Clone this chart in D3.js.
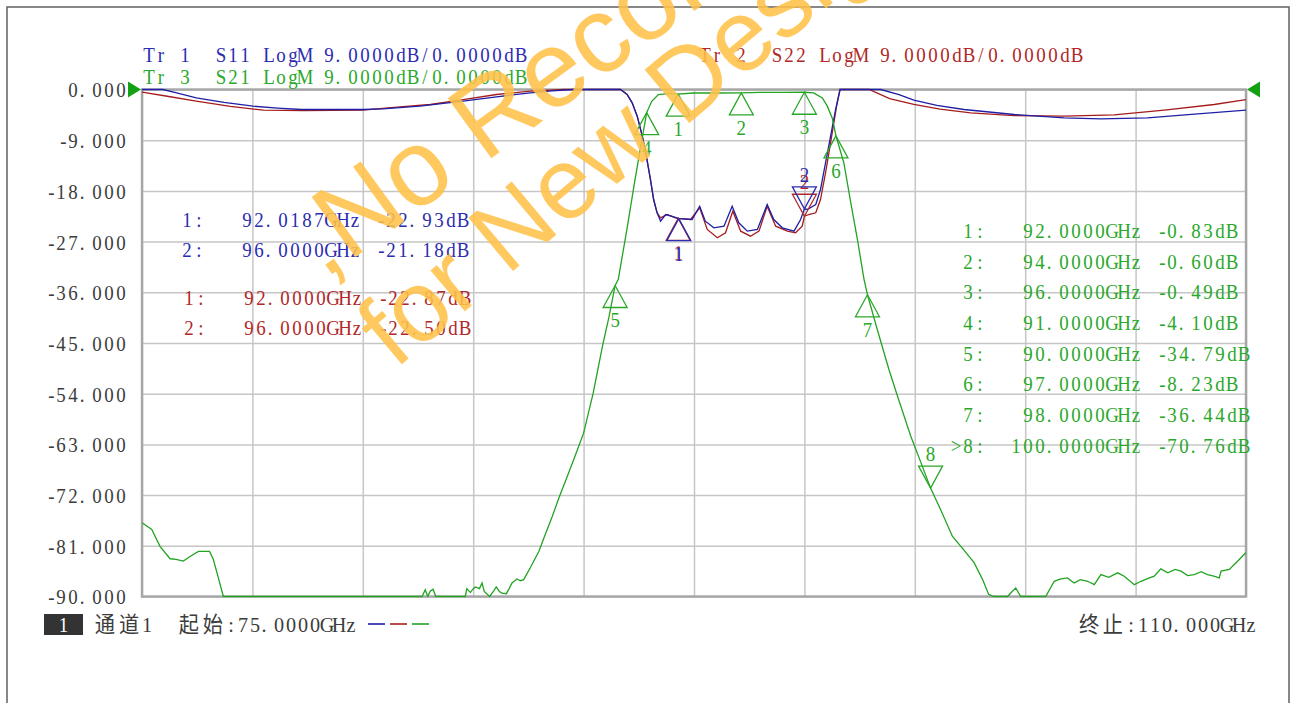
<!DOCTYPE html>
<html>
<head>
<meta charset="utf-8">
<script src="https://cdn.jsdelivr.net/npm/d3@7/dist/d3.min.js"></script>
<style>
  body { margin: 0; background: #fff; }
  svg { display: block; }
</style>
</head>
<body>
<svg id="vna" width="1295" height="703"></svg>
<script>
var xTicks = [75, 78.5, 82, 85.5, 89, 92.5, 96, 99.5, 103, 106.5, 110];
var yTicks = [0, -9, -18, -27, -36, -45, -54, -63, -72, -81, -90];

// S11 (Tr 1)
var s11Freq = [75.00, 75.66, 76.10, 76.72, 77.60, 78.52, 79.30, 80.05, 82.00, 82.64, 83.81, 85.18, 86.24, 87.31, 88.00, 88.68,
  90.17, 90.38, 90.54, 90.70, 90.86, 90.99, 91.12, 91.22, 91.33, 91.44, 91.60, 91.86, 92.02, 92.44, 92.68, 92.86, 93.13,
  93.45, 93.71, 93.92, 94.19, 94.51, 94.82, 95.03, 95.30, 95.67, 95.88, 96.00, 96.09, 96.36, 96.51, 96.67, 96.83, 96.99,
  97.13, 98.42, 99.00, 99.47, 100.20, 101.06, 102.65, 104.23, 105.40, 106.88, 108.47, 110.00];
var s11Db = [0, 0, -0.6, -1.48, -2.3, -2.96, -3.3, -3.55, -3.55, -3.43, -2.96, -2.08, -1.30, -0.59, -0.25, 0,
  0, -0.89, -2.36, -4.74, -8.29, -11.84, -15.98, -19.53, -21.89, -23.38, -22.19, -22.60, -22.93, -23.08, -20.72, -23.38, -24.55,
  -24.27, -20.72, -23.66, -25.15, -24.85, -20.41, -23.08, -24.55, -25.15, -23.08, -21.18, -21.30, -20.41, -17.75, -13.01, -8.29, -3.55,
  0, 0, -0.9, -1.90, -2.8, -3.55, -4.44, -5.02, -5.20, -5.02, -4.31, -3.67];

// S22 (Tr 2)
var s22Freq = [75.00, 75.80, 76.72, 77.80, 78.85, 80.11, 82.00, 83.08, 84.14, 85.18, 86.24, 87.31, 88.37,
  90.17, 90.38, 90.54, 90.70, 90.86, 90.99, 91.12, 91.22, 91.33, 91.44, 91.65, 91.91, 92.00, 92.39, 92.68, 92.92, 93.24,
  93.50, 93.73, 93.98, 94.29, 94.56, 94.82, 95.09, 95.46, 95.72, 95.93, 96.00, 96.14, 96.36, 96.51, 96.67, 96.83, 97.02,
  97.13, 98.05, 98.70, 99.47, 100.30, 101.27, 102.65, 104.23, 105.82, 107.41, 108.99, 110.00];
var s22Db = [-0.48, -1.2, -2.08, -3.0, -3.67, -3.73, -3.67, -3.14, -2.66, -1.78, -0.89, -0.30, 0,
  0, -0.89, -2.36, -4.74, -8.29, -11.84, -15.98, -19.53, -21.89, -22.78, -22.19, -22.78, -22.87, -23.08, -21.00, -24.85, -26.33,
  -25.44, -21.60, -25.15, -26.04, -25.15, -20.72, -24.27, -25.15, -25.44, -24.27, -22.50, -22.19, -21.89, -19.53, -14.79, -9.46, -2.96,
  0, 0, -1.6, -2.66, -3.5, -4.14, -4.62, -4.74, -4.49, -3.67, -2.66, -1.78];

// S21 (Tr 3)
var s21Freq = [75.00, 75.31, 75.57, 75.89, 76.08, 76.31, 76.52, 76.79, 77.14, 77.26, 77.42, 77.58, 83.88, 83.98, 84.06, 84.14,
  84.23, 84.31, 85.25, 85.30, 85.41, 85.49, 85.57, 85.70, 85.78, 85.85, 86.02, 86.15, 86.23, 86.33, 86.41, 86.55, 86.64,
  86.73, 86.89, 87.00, 87.10, 87.31, 87.58, 87.79, 88.00, 88.21, 88.42, 88.70, 89.00, 89.30, 89.60, 89.80, 90.00, 90.10, 90.37,
  90.63, 90.85, 91.00, 91.16, 91.37, 91.75, 92.00, 92.48, 93.20, 94.00, 94.60, 95.30, 96.00, 96.29, 96.57, 96.73, 96.89,
  97.00, 97.25, 97.47, 97.68, 97.89, 98.00, 98.31, 98.68, 98.95, 99.37, 99.74, 100.00, 100.32, 100.69, 100.96, 101.38,
  101.65, 101.84, 102.00, 102.44, 102.57, 102.70, 102.86, 103.65, 103.92, 104.10, 104.34, 104.55, 104.75, 104.98, 105.19,
  105.40, 105.65, 105.93, 106.14, 106.46, 106.67, 106.90, 107.09, 107.30, 107.52, 107.75, 107.94, 108.15, 108.36, 108.58,
  108.78, 108.98, 109.15, 109.21, 109.47, 109.74, 110.00];
var s21Db = [-76.9, -78.1, -81.1, -83.3, -83.4, -83.7, -82.9, -82.0, -82.0, -83.4, -86.7, -90, -90, -88.8, -90, -89.0,
  -88.7, -90, -90, -88.6, -89.3, -88.7, -88.3, -88.6, -87.6, -89.1, -90, -89.0, -88.3, -89.1, -89.4, -89.5, -88.6,
  -87.6, -86.9, -87.2, -87.0, -84.9, -82.0, -78.9, -75.9, -72.6, -69.6, -65.5, -61.0, -54.0, -45.5, -40.5, -34.79, -33.7, -24.9,
  -16.0, -8.9, -4.10, -2.1, -0.9, -0.7, -0.83, -0.62, -0.62, -0.60, -0.52, -0.50, -0.49, -0.6, -1.5, -3.0, -5.2,
  -8.23, -13.0, -20.1, -26.6, -33.7, -36.44, -42.6, -49.7, -54.4, -61.5, -66.9, -70.76, -74.6, -79.3, -81.1, -84.0,
  -87.0, -89.6, -90, -90, -89.2, -88.5, -90, -90, -87.3, -86.9, -86.7, -87.6, -87.0, -87.3, -87.9,
  -86.1, -86.6, -85.8, -86.4, -87.9, -87.3, -86.8, -86.4, -85.1, -85.8, -85.2, -85.5, -86.3, -86.1, -85.6,
  -86.1, -86.4, -86.7, -85.5, -85.2, -83.7, -82.2];

// markers
var s21MkNo = [1, 2, 3, 4, 5, 6, 7, 8];
var s21MkFreq = [92, 94, 96, 91, 90, 97, 98, 100];
var s21MkDb = [-0.83, -0.60, -0.49, -4.10, -34.79, -8.23, -36.44, -70.76];
var s21Active = 8;
var s11MkNo = [1, 2];
var s11MkFreq = [92.0187, 96];
var s11MkDb = [-22.93, -21.18];
var s11Active = 2;
var s22MkNo = [1, 2];
var s22MkFreq = [92, 96];
var s22MkDb = [-22.87, -22.50];
var s22Active = 2;

var traceTitles = ["Tr 1  S11 LogM 9.0000dB/0.0000dB", "Tr 2  S22 LogM 9.0000dB/0.0000dB", "Tr 3  S21 LogM 9.0000dB/0.0000dB"];
var watermark = [",No Recommended", "for New Design"];

var col = { s11: "#1f1fa6", s22: "#a51c1c", s21: "#22a322",
            s11t: "#2c2cb0", s22t: "#b02828", s21t: "#2aa82a", txt: "#3c3c3c" };

// ---- layout ----
var svg = d3.select("#vna");
var x = d3.scaleLinear().domain([75, 110]).range([142, 1246]);
var y = d3.scaleLinear().domain([0, -90]).range([89.5, 596.5]).clamp(true);

// monospaced text like the analyser font: every glyph in its own cell
function monoText(parent, str, x0, yb, color, opt) {
  opt = opt || {};
  var cell = opt.cell || 12, sx = opt.sx || 0.86, size = opt.size || 22;
  var chars = [], xs = [], acc = 0;
  Array.from(str).forEach(function(ch) {
    var wide = ch.charCodeAt(0) > 0x2e80;
    var cw = wide ? cell * 2 : cell;
    if (ch !== " ") {
      chars.push(ch);
      var cx = x0 + acc + cw / 2;
      if (ch === ".") cx = x0 + acc + 3;
      if (ch === "-") cx = x0 + acc + cw / 2 + 2.5;
      xs.push((cx / sx).toFixed(2));
    }
    acc += cw;
  });
  return parent.append("text")
    .attr("transform", "scale(" + sx + ",1)")
    .attr("x", xs.join(" "))
    .attr("y", yb)
    .attr("text-anchor", "middle")
    .attr("font-family", "'Liberation Serif', 'Noto Sans CJK SC', serif")
    .attr("font-size", size + "px")
    .attr("fill", color)
    .text(chars.join(""));
}

// page frame
svg.append("rect")
  .attr("x", 7).attr("y", 7).attr("width", 1282).attr("height", 740)
  .attr("fill", "none").attr("stroke", "#6a6a6a").attr("stroke-width", 1.6);

// grid
var gx = svg.append("g")
  .attr("transform", "translate(0," + y(-90) + ")")
  .call(d3.axisBottom(x).tickValues(xTicks).tickSize(-(y(-90) - y(0))).tickFormat(""));
var gy = svg.append("g")
  .attr("transform", "translate(" + x(75) + ",0)")
  .call(d3.axisLeft(y).tickValues(yTicks).tickSize(-(x(110) - x(75))).tickFormat(""));
[gx, gy].forEach(function(g) {
  g.select(".domain").remove();
  g.selectAll(".tick line").attr("stroke", "#c6c6c6").attr("stroke-width", 1.5);
});

svg.append("rect")
  .attr("x", x(75)).attr("y", y(0))
  .attr("width", x(110) - x(75)).attr("height", y(-90) - y(0))
  .attr("fill", "none").attr("stroke", "#a6a6a6").attr("stroke-width", 2.4);

// y labels
yTicks.forEach(function(v) {
  var s = v.toFixed(3);
  monoText(svg, s, 127 - s.length * 12, y(v) + 8, col.txt);
});

// reference arrows
svg.append("path")
  .attr("d", "M128," + (y(0) - 8) + "L141," + y(0) + "L128," + (y(0) + 8) + "Z")
  .attr("fill", "#14a014");
svg.append("path")
  .attr("d", "M1260," + (y(0) - 8) + "L1247," + y(0) + "L1260," + (y(0) + 8) + "Z")
  .attr("fill", "#14a014");

// titles
monoText(svg, traceTitles[0], 143, 62, col.s11t);
monoText(svg, traceTitles[1], 699, 62, col.s22t);
monoText(svg, traceTitles[2], 143, 84, col.s21t);

// traces
svg.append("clipPath").attr("id", "plotclip").append("rect")
  .attr("x", x(75)).attr("y", y(0) - 2).attr("width", x(110) - x(75)).attr("height", y(-90) - y(0) + 3);

var line = d3.line()
  .x(function(d) { return x(d[0]); })
  .y(function(d) { return y(d[1]); });

function drawTrace(fr, db, color) {
  svg.append("path")
    .datum(d3.zip(fr, db))
    .attr("clip-path", "url(#plotclip)")
    .attr("fill", "none")
    .attr("stroke", color)
    .attr("stroke-width", 1.3)
    .attr("d", line);
}
drawTrace(s22Freq, s22Db, col.s22);
drawTrace(s11Freq, s11Db, col.s11);
drawTrace(s21Freq, s21Db, col.s21);

// marker triangles
function drawMarkers(nos, fr, db, active, color) {
  nos.forEach(function(n, i) {
    var px = x(fr[i]), py = y(db[i]);
    var up = n !== active;
    var by = up ? py + 22 : py - 22;
    svg.append("path")
      .attr("d", "M" + px + "," + py + "L" + (px - 12) + "," + by + "L" + (px + 12) + "," + by + "Z")
      .attr("fill", "none").attr("stroke", color).attr("stroke-width", 1.3);
    monoText(svg, String(n), px - 6, up ? py + 42 : py - 27, color);
  });
}
drawMarkers(s22MkNo, s22MkFreq, s22MkDb, s22Active, col.s22t);
drawMarkers(s11MkNo, s11MkFreq, s11MkDb, s11Active, col.s11t);
drawMarkers(s21MkNo, s21MkFreq, s21MkDb, s21Active, col.s21t);

// marker readouts
function readout(n, f, db) {
  var fs = f.toFixed(4) + "GHz";
  while (fs.length < 13) fs = " " + fs;
  return n + ":" + fs + " " + db.toFixed(2) + "dB";
}
s11MkNo.forEach(function(n, i) {
  monoText(svg, readout(n, s11MkFreq[i], s11MkDb[i]), 181, 227 + i * 30.5, col.s11t);
});
s22MkNo.forEach(function(n, i) {
  monoText(svg, readout(n, s22MkFreq[i], s22MkDb[i]), 183, 305 + i * 30.5, col.s22t);
});
s21MkNo.forEach(function(n, i) {
  var s = readout(n, s21MkFreq[i], s21MkDb[i]);
  var x0 = 962;
  if (n === s21Active) { s = ">" + s; x0 -= 12; }
  monoText(svg, s, x0, 238 + i * 30.7, col.s21t);
});

// channel status line
svg.append("rect").attr("x", 44).attr("y", 614).attr("width", 39).attr("height", 21).attr("fill", "#333");
monoText(svg, "1", 57.5, 632, "#fff");
monoText(svg, "通道1", 93, 632, col.txt, { sx: 0.92 });
monoText(svg, "起始:75.0000GHz", 177, 632, col.txt, { sx: 0.92 });
monoText(svg, "终止:110.000GHz", 1077, 632, col.txt, { sx: 0.92 });
[col.s11, col.s22, col.s21].forEach(function(c, i) {
  svg.append("line")
    .attr("x1", 368 + i * 22).attr("x2", 385 + i * 22)
    .attr("y1", 624).attr("y2", 624)
    .attr("stroke", c).attr("stroke-width", 1.6);
});

// watermark
var wm = svg.append("g").attr("opacity", 0.88)
  .attr("font-family", "'Liberation Sans', Arial, sans-serif")
  .attr("fill", "#ffc24a");
wm.append("text").attr("transform", "translate(324,280) rotate(-36)")
  .attr("font-size", "108px").text(watermark[0]);
wm.append("text").attr("transform", "translate(395,370) rotate(-40)")
  .attr("font-size", "101px").text(watermark[1]);
</script>
</body>
</html>
